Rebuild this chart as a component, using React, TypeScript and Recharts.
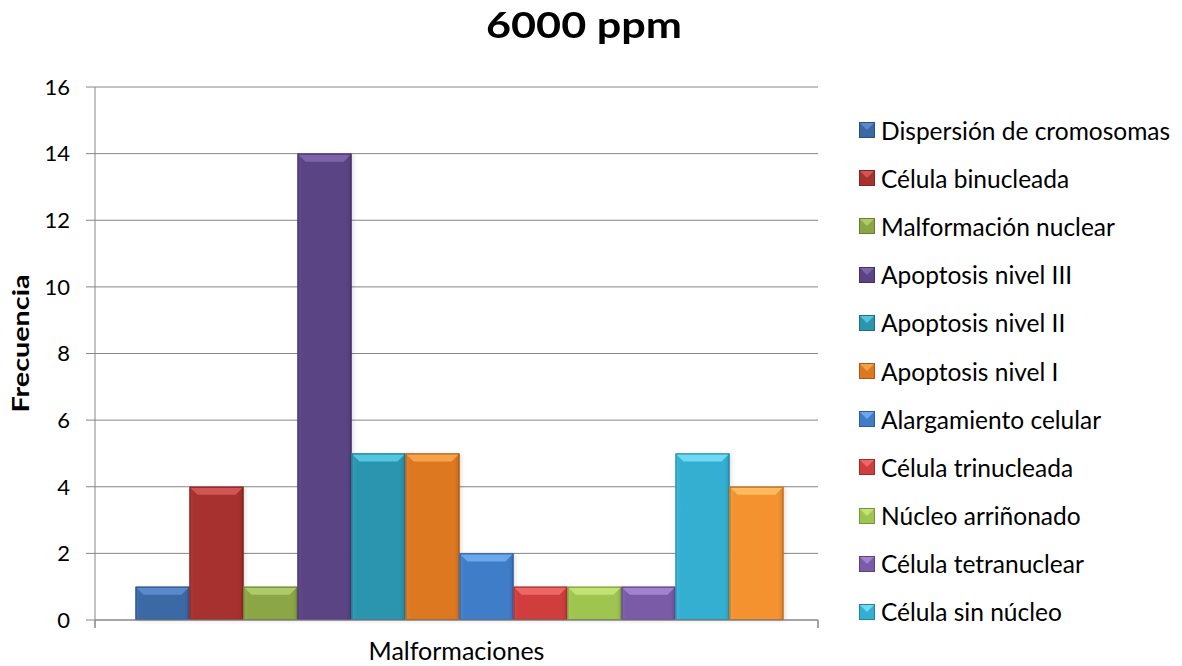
import React from 'react';
import { BarChart, Bar, XAxis, YAxis, CartesianGrid, Legend } from 'recharts';

const categories = ['Malformaciones'];
const seriesNames = [
  'Dispersión de cromosomas',
  'Célula binucleada',
  'Malformación nuclear',
  'Apoptosis nivel III',
  'Apoptosis nivel II',
  'Apoptosis nivel I',
  'Alargamiento celular',
  'Célula trinucleada',
  'Núcleo arriñonado',
  'Célula tetranuclear',
  'Célula sin núcleo',
  '',
];
const seriesValues = [1, 4, 1, 14, 5, 5, 2, 1, 1, 1, 5, 4];
const yTicks = [0, 2, 4, 6, 8, 10, 12, 14, 16];
const frameTicks = [0, 0.5, 1];
const chartTitle = '6000 ppm';
const yTitle = 'Frecuencia';

const palette = [
  { body: '#3B69A6', top: '#5A8ACB', edge: '#2C4F80' },
  { body: '#A6312F', top: '#D25555', edge: '#7E2422' },
  { body: '#8BA745', top: '#AECB6C', edge: '#687F31' },
  { body: '#5B4483', top: '#7D64A8', edge: '#433162' },
  { body: '#2B94AE', top: '#52C6DF', edge: '#1F6F83' },
  { body: '#DD7821', top: '#F6A24D', edge: '#A85A17' },
  { body: '#3F7DC9', top: '#6CA7EC', edge: '#2E5C96' },
  { body: '#CF3D3D', top: '#EE6767', edge: '#9B2C2C' },
  { body: '#9FC44F', top: '#C3E275', edge: '#78953A' },
  { body: '#7A5BA8', top: '#A183CD', edge: '#5A427D' },
  { body: '#34AFD2', top: '#6FD9F3', edge: '#26839E' },
  { body: '#F3922F', top: '#FFBA5E', edge: '#B96D21' },
];

const FONT = 'Lato, "Open Sans", sans-serif';

const data = categories.map((c) => {
  const row: Record<string, string | number> = { category: c, frame: 0.5 };
  seriesValues.forEach((v, i) => {
    row[`s${i}`] = v;
  });
  return row;
});

function bevelShape(i: number) {
  return (p: any) => {
    const { x, y, width: w, height: h } = p;
    if (!h || h <= 0) return <g />;
    const c = palette[i];
    const b = Math.min(8, h / 2, w / 2);
    const gid = `bg${i}`;
    return (
      <g>
        <defs>
          <linearGradient id={gid} x1="0" y1="0" x2="1" y2="0">
            <stop offset="0" stopColor={c.top} stopOpacity={0.35} />
            <stop offset="0.12" stopColor={c.body} stopOpacity={0} />
            <stop offset="0.88" stopColor={c.body} stopOpacity={0} />
            <stop offset="1" stopColor={c.edge} stopOpacity={0.6} />
          </linearGradient>
        </defs>
        <rect x={x + 2} y={y + 1} width={w} height={h} fill="#000" opacity={0.12} filter="url(#barShadow)" />
        <rect x={x} y={y} width={w} height={h} fill={c.body} />
        <rect x={x} y={y} width={w} height={h} fill={`url(#${gid})`} />
        <polygon
          points={`${x},${y} ${x + w},${y} ${x + w - b},${y + b} ${x + b},${y + b}`}
          fill={c.top}
        />
        <rect x={x + 0.5} y={y + 0.5} width={w - 1} height={h - 1} fill="none" stroke={c.edge} strokeWidth={1} />
      </g>
    );
  };
}

function FrameTick(p: any) {
  const { x, y, payload } = p;
  if (Math.abs(payload.value - 0.5) < 1e-6) {
    return (
      <text x={x} y={y + 32} textAnchor="middle" fontFamily={FONT} fontSize={25} fill="#000">
        {categories[0]}
      </text>
    );
  }
  return <line x1={x} y1={y - 8} x2={x} y2={y} stroke="#868686" strokeWidth={1.5} />;
}

function YTitle(p: any) {
  const vb = p.viewBox || {};
  const cy = (vb.y ?? 0) + (vb.height ?? 0) / 2 - 10;
  return (
    <text
      transform={`translate(20, ${cy}) rotate(-90) scale(1.25, 1)`}
      textAnchor="middle"
      dominantBaseline="central"
      fontFamily={FONT}
      fontWeight="bold"
      fontSize={23}
      fill="#000"
    >
      {yTitle}
    </text>
  );
}

function LegendContent() {
  const names = seriesNames.filter((n) => n !== '');
  return (
    <div style={{ fontFamily: FONT, fontSize: 24.5, color: '#000' }}>
      {names.map((n, i) => {
        const c = palette[i];
        return (
          <div key={n} style={{ height: 48.2, display: 'flex', alignItems: 'center', whiteSpace: 'nowrap' }}>
            <svg width={16} height={16} style={{ marginRight: 6, flex: 'none' }}>
              <rect x={0} y={0} width={16} height={16} fill={c.body} />
              <polygon points="0,0 16,0 8,8" fill={c.top} />
              <rect x={0.5} y={0.5} width={15} height={15} fill="none" stroke={c.edge} />
            </svg>
            <span>{n}</span>
          </div>
        );
      })}
    </div>
  );
}

export default function App() {
  return (
    <div style={{ position: 'absolute', left: 0, top: 0, width: 1182, height: 666, background: '#fff' }}>
      <svg width={0} height={0} style={{ position: 'absolute' }}>
        <defs>
          <filter id="barShadow" x="-20%" y="-20%" width="140%" height="140%">
            <feGaussianBlur stdDeviation={2} />
          </filter>
        </defs>
      </svg>
      <div
        style={{
          position: 'absolute',
          left: 0,
          top: -1,
          width: 1168,
          textAlign: 'center',
          fontFamily: FONT,
          fontWeight: 'bold',
          fontSize: 36,
          lineHeight: '50px',
          color: '#000',
          transform: 'scaleX(1.2)',
          transformOrigin: '584px 0',
        }}
      >
        {chartTitle}
      </div>
      <BarChart
        width={1182}
        height={666}
        data={data}
        margin={{ top: 87, right: 364, bottom: 0, left: 0 }}
        barCategoryGap="5.6%"
        barGap={0}
      >
        <CartesianGrid xAxisId="cat" vertical={false} stroke="#868686" strokeWidth={1} />
        <XAxis xAxisId="cat" dataKey="category" hide height={0} />
        <XAxis
          xAxisId="frame"
          dataKey="frame"
          type="number"
          scale="linear"
          domain={[0, 1]}
          allowDataOverflow
          ticks={frameTicks}
          height={46}
          axisLine={{ stroke: '#868686' }}
          tickLine={false}
          tick={<FrameTick />}
          interval={0}
        />
        <YAxis
          width={95}
          domain={[0, 16]}
          ticks={yTicks}
          interval={0}
          tickSize={9}
          tickMargin={16}
          axisLine={{ stroke: '#868686' }}
          tickLine={{ stroke: '#868686' }}
          tick={{ fill: '#000', fontFamily: FONT, fontSize: 22 }}
          label={<YTitle />}
        />
        <Legend
          layout="vertical"
          align="center"
          verticalAlign="middle"
          wrapperStyle={{ left: 859, top: 106, width: 323 }}
          content={<LegendContent />}
        />
        {seriesValues.map((_, i) => (
          <Bar
            key={i}
            xAxisId="cat"
            dataKey={`s${i}`}
            name={seriesNames[i] || `Serie ${i + 1}`}
            fill={palette[i].body}
            shape={bevelShape(i)}
            isAnimationActive={false}
            legendType={seriesNames[i] ? 'square' : 'none'}
          />
        ))}
      </BarChart>
    </div>
  );
}
